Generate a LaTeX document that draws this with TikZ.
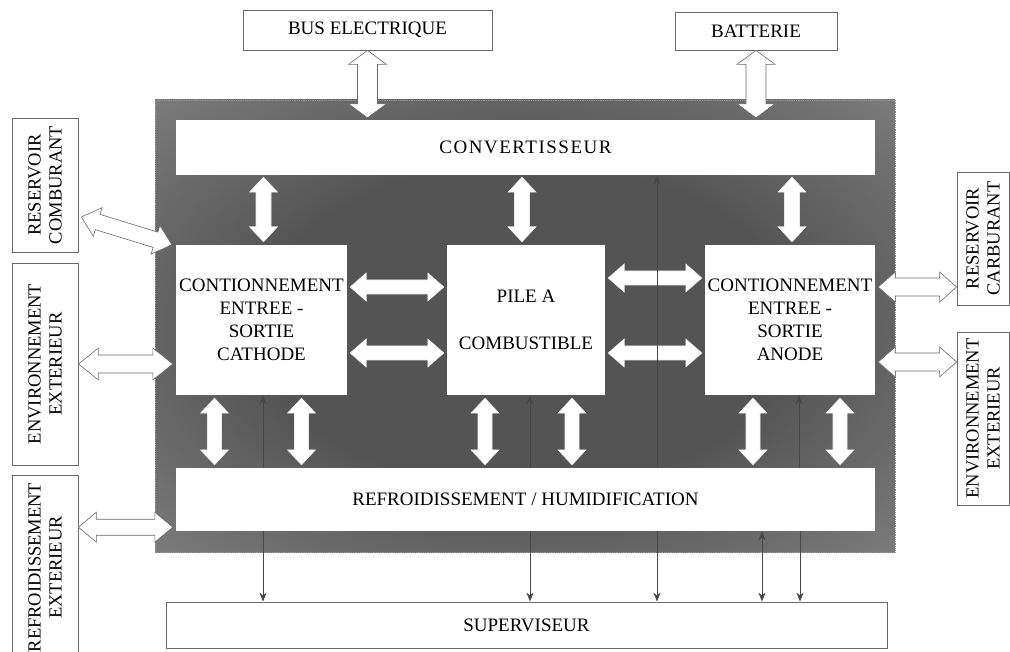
\documentclass[tikz,border=0pt]{standalone}
\usepackage{fontspec}
\setmainfont{Liberation Serif}
\usetikzlibrary{calc,arrows.meta}
\definecolor{glight}{RGB}{138,138,138}
\definecolor{gdark}{RGB}{84,84,84}
\definecolor{edgec}{RGB}{105,105,105}
\pgfdeclareradialshading{frameshade}{\pgfpoint{0bp}{0bp}}{color(0bp)=(gdark); color(18bp)=(gdark); color(42bp)=(glight); color(75bp)=(glight)}
% hollow double arrow from #2 to #3; #4 shaft half width, #5 head half width, #6 head length
\newcommand\hollowarrow[6][]{%
  \draw[harr,#1] let \p1=(#2), \p2=(#3),
      \n1={veclen(\x2-\x1,\y2-\y1)}, \n2={atan2(\y2-\y1,\x2-\x1)} in
    [shift={(\p1)}, rotate=\n2]
    (0,0) -- (#6,#5) -- (#6,#4) -- ({\n1-#6},#4) -- ({\n1-#6},#5) -- (\n1,0)
    -- ({\n1-#6},-#5) -- ({\n1-#6},-#4) -- (#6,-#4) -- (#6,-#5) -- cycle;
}
\begin{document}
\begin{tikzpicture}[x=1pt,y=-1pt,
  txt/.style={font=\fontsize{19}{23}\selectfont, align=center},
  obox/.style={draw=edgec, line width=0.8pt, fill=white, inner sep=0pt, txt},
  ibox/.style={fill=white, inner sep=0pt, txt},
  vbox/.style={obox, rotate=90, font=\fontsize{18.5}{21}\selectfont},
  harr/.style={fill=white, draw=edgec, line width=0.6pt, line join=miter},
  harrin/.style={draw=white!92!black},
  sig/.style={draw=black!72, line width=0.8pt, -{Stealth[length=9pt,width=7pt]}},
  sigb/.style={draw=black!72, line width=0.8pt, {Stealth[length=9pt,width=7pt]}-{Stealth[length=9pt,width=7pt]}},
]
\useasboundingbox (0,0) rectangle (1010,652);

% grey frame
\shade[shading=frameshade] (155,100) rectangle (895,552);
\draw[black!40, densely dotted, line width=0.8pt] (155,100) rectangle (895,552);

% outer boxes
\node[obox, minimum width=249pt, minimum height=40pt] (bus) at (367.5,30) {BUS ELECTRIQUE};
\node[obox, minimum width=162pt, minimum height=38pt] (bat) at (756,31) {BATTERIE};
\node[obox, minimum width=721pt, minimum height=46pt] (sup) at (526.5,625) {SUPERVISEUR};
\node[vbox, minimum width=134pt, minimum height=66pt] (resc) at (45,185) {RESERVOIR\\COMBURANT};
\node[vbox, minimum width=202pt, minimum height=66pt] (envl) at (45,364) {ENVIRONNEMENT\\EXTERIEUR};
\node[vbox, minimum width=185pt, minimum height=66pt] (refx) at (45,567.5) {REFROIDISSEMENT\\EXTERIEUR};
\node[vbox, minimum width=133pt, minimum height=52pt] (resr) at (983,238.5) {RESERVOIR\\CARBURANT};
\node[vbox, minimum width=173pt, minimum height=52pt] (envr) at (983,418.5) {ENVIRONNEMENT\\EXTERIEUR};

% inner boxes
\node[ibox, minimum width=699pt, minimum height=55pt] (conv) at (525.5,147.5) {\addfontfeature{LetterSpace=8}CONVERTISSEUR};
\node[ibox, minimum width=171pt, minimum height=150pt] (cath) at (261.5,320) {CONTIONNEMENT\\ENTREE -\\SORTIE\\CATHODE};
\node[ibox, minimum width=158pt, minimum height=150pt] (pile) at (526,320) {PILE A\\[24pt]COMBUSTIBLE};
\node[ibox, minimum width=170pt, minimum height=150pt] (anode) at (790,320) {CONTIONNEMENT\\ENTREE -\\SORTIE\\ANODE};
\node[ibox, minimum width=699pt, minimum height=63pt] (refr) at (525.5,499.5) {REFROIDISSEMENT / HUMIDIFICATION};

% hollow arrows: top
\hollowarrow{bus.south}{$(bus.south |- conv.north)+(0,-2)$}{10}{19}{14}
\hollowarrow{bat.south}{$(bat.south |- conv.north)+(0,-2)$}{10}{19}{14}
% converter to modules
\hollowarrow[harrin]{$(conv.south -| cath.north)+(2,2)$}{$(cath.north)+(2,-3)$}{7.5}{14}{15}
\hollowarrow[harrin]{$(conv.south -| pile.north)+(-4,2)$}{$(pile.north)+(-4,-3)$}{7.5}{14}{15}
\hollowarrow[harrin]{$(conv.south -| anode.north)+(2,2)$}{$(anode.north)+(2,-3)$}{7.5}{14}{15}
% between modules
\hollowarrow[harrin]{$(cath.east)+(3,-33)$}{$(pile.west)+(-3,-33)$}{7}{14}{16}
\hollowarrow[harrin]{$(cath.east)+(3,33)$}{$(pile.west)+(-3,33)$}{7}{14}{16}
\hollowarrow[harrin]{$(pile.east)+(3,-42)$}{$(anode.west)+(-3,-42)$}{7}{14}{16}
\hollowarrow[harrin]{$(pile.east)+(3,33)$}{$(anode.west)+(-3,33)$}{7}{14}{16}
% modules to cooling
\hollowarrow[harrin]{$(cath.south)+(-47,3)$}{$(cath.south |- refr.north)+(-47,-3)$}{7}{14}{15}
\hollowarrow[harrin]{$(cath.south)+(40,3)$}{$(cath.south |- refr.north)+(40,-3)$}{7}{14}{15}
\hollowarrow[harrin]{$(pile.south)+(-41,3)$}{$(pile.south |- refr.north)+(-41,-3)$}{7}{14}{15}
\hollowarrow[harrin]{$(pile.south)+(46,3)$}{$(pile.south |- refr.north)+(46,-3)$}{7}{14}{15}
\hollowarrow[harrin]{$(anode.south)+(-37,3)$}{$(anode.south |- refr.north)+(-37,-3)$}{7}{14}{15}
\hollowarrow[harrin]{$(anode.south)+(50,3)$}{$(anode.south |- refr.north)+(50,-3)$}{7}{14}{15}
% left side
\hollowarrow{$(resc.south)+(3,32)$}{$(cath.north west)+(-4,0)$}{8}{15}{17}
\hollowarrow{envl.south}{$(envl.south -| cath.west)+(-3,0)$}{9}{16}{20}
\hollowarrow{$(refx.south |- refr.south)+(0,-4)$}{$(refr.south west)+(-3,-4)$}{8}{15}{18}
% right side
\hollowarrow{$(anode.east)+(3,-33)$}{$(resr.north |- anode.east)+(0,-33)$}{9}{15}{17}
\hollowarrow{$(anode.east)+(3,42)$}{$(envr.north |- anode.east)+(0,42)$}{9}{15}{17}

% thin signal arrows
\draw[sig] ($(cath.south |- refr.north)+(1.5,0)$) -- ($(cath.south)+(1.5,0)$);
\draw[sig] ($(pile.south |- refr.north)+(4,0)$) -- ($(pile.south)+(4,0)$);
\draw[sig] ($(anode.south |- refr.north)+(9,0)$) -- ($(anode.south)+(9,0)$);
\draw[sig] ($(refr.north)+(131.5,0)$) -- ($(conv.south)+(131.5,0)$);
\draw[sig] ($(cath.south |- refr.south)+(1.5,0)$) -- ($(cath.south |- sup.north)+(1.5,0)$);
\draw[sig] ($(pile.south |- refr.south)+(4,0)$) -- ($(pile.south |- sup.north)+(4,0)$);
\draw[sig] ($(refr.south)+(131.5,0)$) -- ($(refr.south |- sup.north)+(131.5,0)$);
\draw[sigb] ($(anode.south |- refr.south)+(-28,0)$) -- ($(anode.south |- sup.north)+(-28,0)$);
\draw[sig] ($(anode.south |- refr.south)+(10,0)$) -- ($(anode.south |- sup.north)+(10,0)$);
\end{tikzpicture}
\end{document}
